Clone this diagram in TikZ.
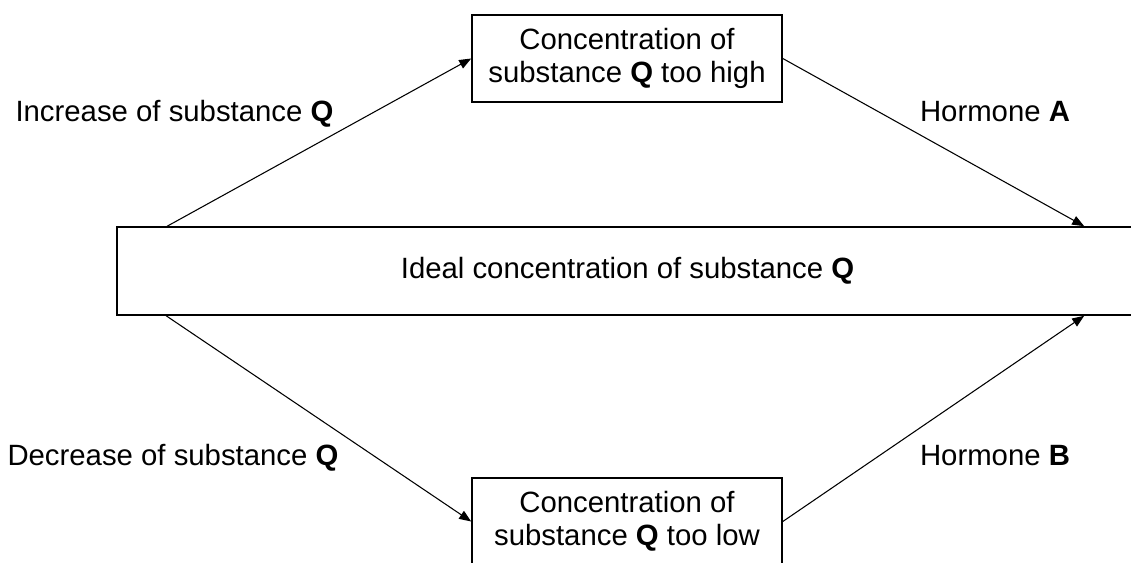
\documentclass[tikz,border=0pt]{standalone}
\usepackage{fontspec}
\setmainfont{Liberation Sans}
\usetikzlibrary{arrows.meta}
\tikzset{
  box/.style={draw=black, line width=1.2pt, inner sep=0pt, align=center,
    font=\fontsize{22}{24.5}\selectfont},
  lbl/.style={anchor=base, inner sep=0pt, font=\fontsize{22}{24.5}\selectfont},
  conn/.style={draw=black, line width=0.8pt, -{Triangle[length=9pt,width=7pt]}}
}
\begin{document}
\begin{tikzpicture}[x=0.75pt,y=-0.75pt]
\useasboundingbox[fill=white] (0,0) rectangle (1131,563);
\node[box, minimum width=232.5pt, minimum height=65.25pt] (top) at (627,58.5)
  {Concentration of\\substance \textbf{Q} too high};
\node[box, minimum width=232.5pt, minimum height=65.25pt] (bot) at (627,521.5)
  {Concentration of\\substance \textbf{Q} too low};
\node[box, minimum width=765.75pt, minimum height=66pt] (mid) at (627.5,271)
  {Ideal concentration of substance \textbf{Q}};
\node[lbl] (inc) at (174.5,122) {Increase of substance \textbf{Q}};
\node[lbl] (dec) at (173,465) {Decrease of substance \textbf{Q}};
\node[lbl] (ha) at (995,122) {Hormone \textbf{A}};
\node[lbl] (hb) at (995,465) {Hormone \textbf{B}};
\draw[conn] ([xshift=38.25pt]mid.north west) -- (top.west);
\draw[conn] (top.east) -- ([xshift=726pt]mid.north west);
\draw[conn] ([xshift=37.5pt]mid.south west) -- (bot.west);
\draw[conn] (bot.east) -- ([xshift=726pt]mid.south west);
\end{tikzpicture}
\end{document}
